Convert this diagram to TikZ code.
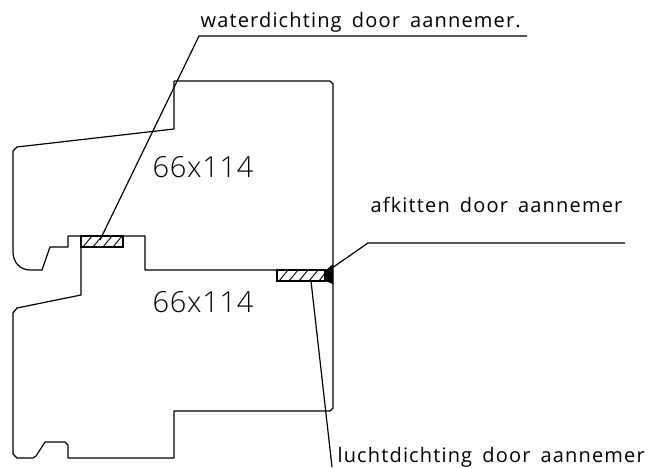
\documentclass[tikz,border=0pt]{standalone}
\usepackage{fontspec}
\setmainfont{Open Sans}[LetterSpace=5.8,WordSpace=1.6]
\newfontfamily\maatfont{Open Sans Light}[LetterSpace=2.5]
\tikzset{x=1pt, y=-1pt,
  profiel/.style={draw, line join=round},
  hatchline/.style={line width=0.9pt},
  labeltext/.style={font=\fontsize{20}{20}\selectfont, inner sep=0pt, anchor=base west},
  maattext/.style={font=\maatfont\fontsize{29}{29}\selectfont, inner sep=0pt, anchor=base west}}

\begin{document}
\begin{tikzpicture}[line width=1.2pt]
    \useasboundingbox (0,0) rectangle (648,468);
    % upper frame
    \draw [profiel]
      (174,81) -- (330,81) -- (333,84) -- (333,408) -- (330,411) -- (174,411) -- (174,458) -- (68,458)
      -- (68,445) -- (65,442) -- (45,442) -- (36,456) -- (33,458) -- (17,458) -- (13,454)
      -- (13,313) -- (17,308) -- (81,295) -- (81,236)
      (68,236) -- (145,236) -- (145,270) -- (333,270)
      (68,236) -- (68,247) -- (50,247) -- (42,270) -- (30,270)
      .. controls (20,270) and (13,262) .. (13,252) -- (13,151) -- (17,147) -- (174,129) -- (174,81);
    % seals
    \draw (81,236) rectangle (123,247) (277,270) rectangle (325,281);
    \foreach \x in {83,93,103,113} \draw [hatchline] (\x,247) -- ++(9,-11);
    \foreach \x in {279,289,299,309} \draw [hatchline] (\x,281) -- ++(9,-11);
    \draw [hatchline] (319,281) -- (325,273);
    \fill (333,264) -- (325,271) -- (325,281) -- (333,284) -- cycle;
    % labels
    \node [labeltext] (water) at (200,28) {waterdichting door aannemer.};
    \node [labeltext] (kit) at (370,212) {afkitten door aannemer};
    \node [labeltext] (lucht) at (337,462) {luchtdichting door aannemer};
    \node [maattext] (maat1) at (152,177) {66x114};
    \node [maattext] (maat2) at (152,312) {66x114};
    % leaders
    \coordinate (waterstart) at (100,240);
    \coordinate (waterknik) at (199,36);
    \coordinate (watereind) at (527,36);
    \coordinate (kitstart) at (332,268);
    \coordinate (kitknik) at (368,243);
    \coordinate (kiteind) at (625,243);
    \coordinate (luchtstart) at (311,281);
    \coordinate (luchteind) at (332,467);
    \draw (waterstart) -- (waterknik) -- (watereind);
    \draw (kitstart) -- (kitknik) -- (kiteind);
    \draw (luchtstart) -- (luchteind);
\end{tikzpicture}
\end{document}
